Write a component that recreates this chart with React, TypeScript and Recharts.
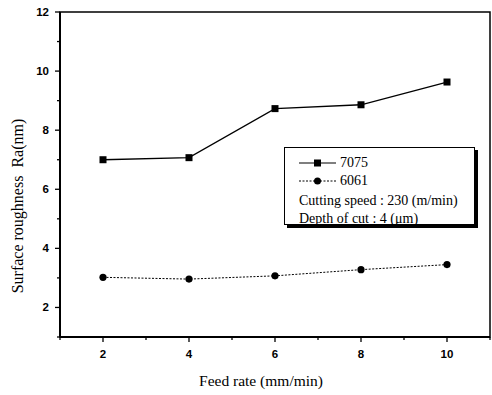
import React from 'react';
import {
  LineChart,
  Line,
  XAxis,
  YAxis,
  ReferenceArea,
  Legend,
} from 'recharts';

const feedRate = [2, 4, 6, 8, 10];
const ra7075 = [7.0, 7.07, 8.73, 8.86, 9.63];
const ra6061 = [3.02, 2.96, 3.07, 3.28, 3.45];
const xTicks = [1, 2, 3, 4, 5, 6, 7, 8, 9, 10, 11];
const yTicks = [1, 2, 3, 4, 5, 6, 7, 8, 9, 10, 11, 12];
const seriesNames = ['7075', '6061'];
const noteLines = ['Cutting speed : 230 (m/min)', 'Depth of cut : 4 (\u03bcm)'];

const data = feedRate.map((x, i) => ({ x, a7075: ra7075[i], a6061: ra6061[i] }));

const SERIF = '"Liberation Serif", "Times New Roman", serif';
const SANS = '"Liberation Sans", Arial, sans-serif';

const XTick = (props: any) => {
  const { x, y, payload } = props;
  const v = payload.value;
  const major = v % 2 === 0;
  return (
    <g>
      <line x1={x} y1={y} x2={x} y2={y + (major ? 5 : 3)} stroke="#000" strokeWidth={1.3} />
      {major && v >= 2 && v <= 10 && (
        <text x={x} y={y + 21} textAnchor="middle" fontFamily={SANS} fontWeight="bold" fontSize={11.5} fill="#000">
          {v}
        </text>
      )}
    </g>
  );
};

const YTick = (props: any) => {
  const { x, y, payload } = props;
  const v = payload.value;
  const major = v % 2 === 0;
  return (
    <g>
      <line x1={x - (major ? 5 : 3)} y1={y} x2={x} y2={y} stroke="#000" strokeWidth={1.3} />
      {major && (
        <text x={x - 11} y={y + 4} textAnchor="end" fontFamily={SANS} fontWeight="bold" fontSize={11.5} fill="#000">
          {v}
        </text>
      )}
    </g>
  );
};

const SquareDot = (props: any) => {
  const { cx, cy } = props;
  if (cx == null || cy == null) return null;
  return <rect x={cx - 3.5} y={cy - 3.5} width={7} height={7} fill="#000" />;
};

const CircleDot = (props: any) => {
  const { cx, cy } = props;
  if (cx == null || cy == null) return null;
  return <circle cx={cx} cy={cy} r={3.6} fill="#000" />;
};

const renderLegend = () => (
  <div
    style={{
      width: 191,
      height: 78,
      boxSizing: 'border-box',
      border: '1px solid #000',
      boxShadow: '3px 3px 0 #000',
      background: '#fff',
      fontFamily: SERIF,
      fontSize: 14,
      color: '#000',
      paddingTop: 6,
      paddingLeft: 14,
      textAlign: 'left',
    }}
  >
    {seriesNames.map((name, i) => (
      <div key={name} style={{ height: 18, lineHeight: '18px', display: 'flex', alignItems: 'center' }}>
        <svg width={38} height={10} style={{ display: 'block' }}>
          <line
            x1={0}
            y1={5}
            x2={37}
            y2={5}
            stroke="#000"
            strokeWidth={i === 0 ? 1.2 : 1}
            strokeDasharray={i === 0 ? undefined : '2 1.5'}
          />
          {i === 0 ? (
            <rect x={15} y={1.5} width={7} height={7} fill="#000" />
          ) : (
            <circle cx={18.5} cy={5} r={3.5} fill="#000" />
          )}
        </svg>
        <span style={{ marginLeft: 3 }}>{name}</span>
      </div>
    ))}
    <div style={{ marginTop: 2 }}>
      {noteLines.map((t) => (
        <div key={t} style={{ height: 18, lineHeight: '18px', whiteSpace: 'nowrap' }}>
          {t}
        </div>
      ))}
    </div>
  </div>
);

export default function App() {
  return (
    <div style={{ position: 'absolute', left: 0, top: 0, background: '#fff' }}>
      <LineChart width={492} height={395} data={data} margin={{ top: 12, right: 2, bottom: 0, left: 0 }}>
        <XAxis
          dataKey="x"
          type="number"
          domain={[1, 11]}
          ticks={xTicks}
          interval={0}
          tickLine={false}
          tickSize={0}
          tickMargin={0}
          tick={<XTick />}
          axisLine={{ stroke: '#000', strokeWidth: 2 }}
          height={58}
          label={(p: any) => {
            const vb = p.viewBox || {};
            const cx = vb.x + vb.width / 2 - 14;
            return (
              <text x={cx} y={vb.y + 43} textAnchor="middle" dominantBaseline="central" fontFamily={SERIF} fontSize={15.5} fill="#000">
                Feed rate (mm/min)
              </text>
            );
          }}
        />
        <YAxis
          type="number"
          domain={[1, 12]}
          ticks={yTicks}
          interval={0}
          tickLine={false}
          tickSize={0}
          tickMargin={0}
          tick={<YTick />}
          axisLine={{ stroke: '#000', strokeWidth: 2 }}
          width={60}
          label={(p: any) => {
            const vb = p.viewBox || {};
            const lx = vb.x + 18;
            const ly = vb.y + vb.height * 0.597;
            return (
              <text
                x={lx}
                y={ly}
                textAnchor="middle"
                dominantBaseline="central"
                transform={`rotate(-90, ${lx}, ${ly})`}
                fontFamily={SERIF}
                fontSize={16}
                fill="#000"
              >
                {'Surface roughness\u00a0\u00a0Ra(nm)'}
              </text>
            );
          }}
        />
        <ReferenceArea x1={1} x2={11} y1={1} y2={12} fill="none" stroke="#000" strokeWidth={1.5} />
        <Line
          dataKey="a7075"
          name="7075"
          stroke="#000"
          strokeWidth={1.3}
          dot={<SquareDot />}
          activeDot={false}
          isAnimationActive={false}
        />
        <Line
          dataKey="a6061"
          name="6061"
          stroke="#000"
          strokeWidth={1}
          strokeDasharray="2 1.5"
          dot={<CircleDot />}
          activeDot={false}
          isAnimationActive={false}
        />
        <Legend
          content={renderLegend}
          layout="horizontal"
          verticalAlign="middle"
          align="center"
          wrapperStyle={{ position: 'absolute', left: 284, top: 147, width: 'auto', bottom: 'auto' }}
        />
      </LineChart>
    </div>
  );
}
